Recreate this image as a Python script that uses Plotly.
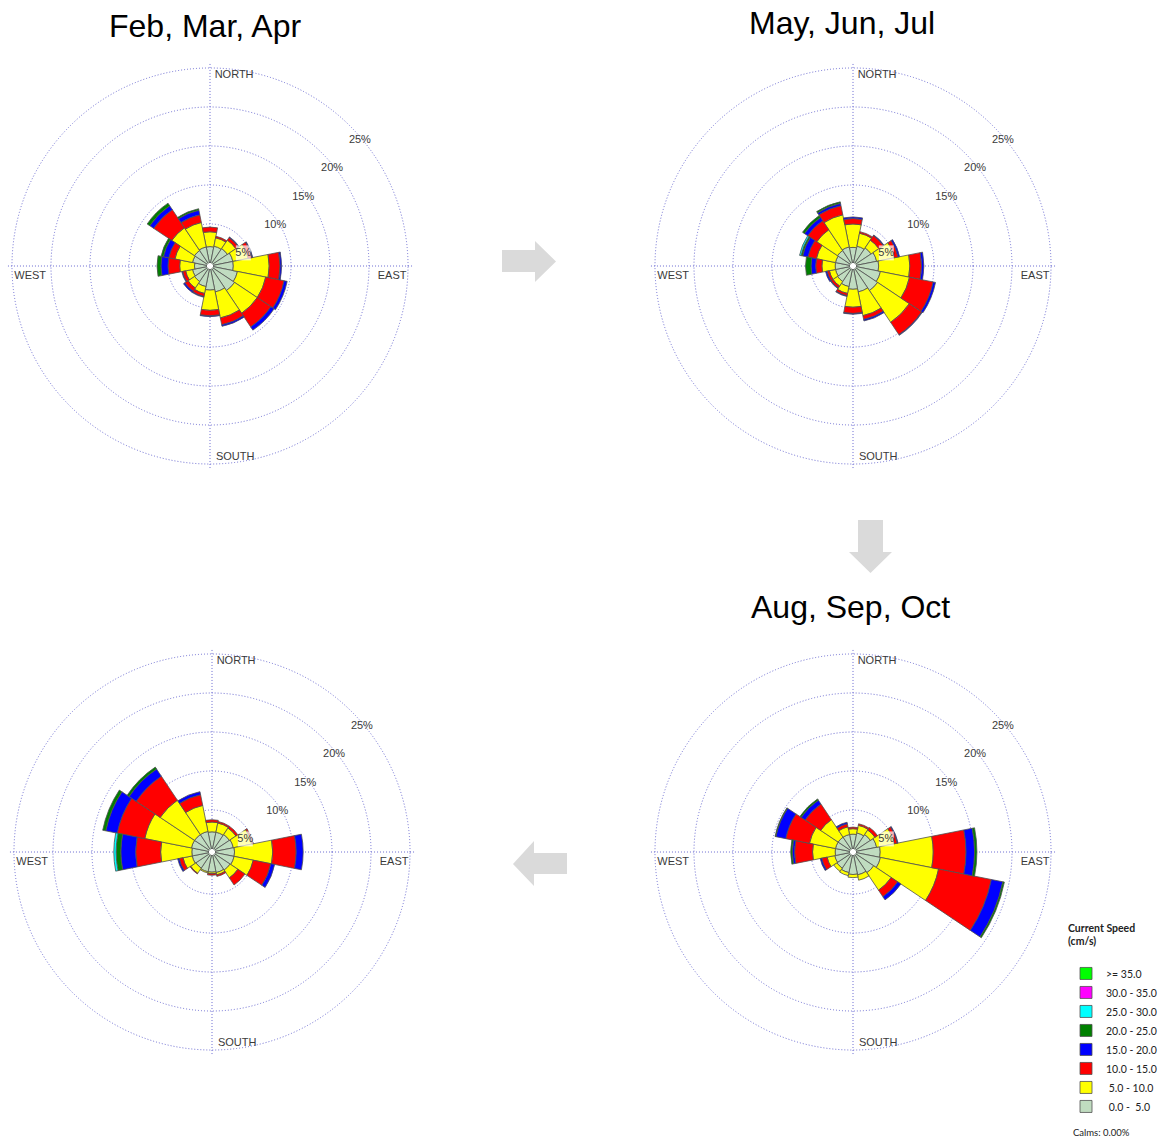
import plotly.graph_objects as go

W, H = 1162, 1140

# ---------------- data ----------------
DIRECTIONS = ["N", "NNE", "NE", "ENE", "E", "ESE", "SE", "SSE",
              "S", "SSW", "SW", "WSW", "W", "WNW", "NW", "NNW"]
THETA_DEG = [0, 22.5, 45, 67.5, 90, 112.5, 135, 157.5,
             180, 202.5, 225, 247.5, 270, 292.5, 315, 337.5]

SPEED_LABELS = ["\u00a00.0 - \u00a05.0", "\u00a05.0 - 10.0", "10.0 - 15.0", "15.0 - 20.0",
                "20.0 - 25.0", "25.0 - 30.0", "30.0 - 35.0", ">= 35.0"]
SPEED_COLORS = ["#c0dcc0", "#ffff00", "#ff0000", "#0000ff",
                "#008000", "#00ffff", "#ff00ff", "#00ff00"]

SEASON_TITLES = ["Feb, Mar, Apr", "May, Jun, Jul", "Aug, Sep, Oct", ""]

# Feb, Mar, Apr  (percent of time per direction and speed class)
FMA_0_5   = [2.1, 2.2, 2.3, 2.6, 2.6, 3.2, 3.4, 3.0, 2.7, 2.3, 2.0, 1.9, 1.6, 1.9, 2.0, 2.1]
FMA_5_10  = [1.9, 1.1, 1.3, 2.0, 4.6, 3.7, 3.5, 3.4, 2.6, 0.9, 1.0, 0.9, 1.9, 2.3, 3.5, 3.2]
FMA_10_15 = [0.6, 0.2, 0.4, 0.5, 1.4, 2.4, 2.1, 0.9, 0.7, 0.4, 0.5, 0.4, 1.5, 0.8, 2.8, 1.0]
FMA_15_20 = [0.0, 0.0, 0.1, 0.1, 0.2, 0.4, 0.5, 0.2, 0.1, 0.1, 0.2, 0.1, 0.9, 0.7, 0.6, 0.6]
FMA_20_25 = [0.0, 0.0, 0.0, 0.0, 0.0, 0.0, 0.0, 0.0, 0.0, 0.0, 0.0, 0.0, 0.5, 0.3, 0.4, 0.2]
FMA_25_30 = [0.0, 0.0, 0.0, 0.0, 0.0, 0.0, 0.0, 0.0, 0.0, 0.0, 0.0, 0.0, 0.0, 0.0, 0.0, 0.0]
FMA_30_35 = [0.0, 0.0, 0.0, 0.0, 0.0, 0.0, 0.0, 0.0, 0.0, 0.0, 0.0, 0.0, 0.0, 0.0, 0.0, 0.0]
FMA_35UP  = [0.0, 0.0, 0.0, 0.0, 0.0, 0.0, 0.0, 0.0, 0.0, 0.0, 0.0, 0.0, 0.0, 0.0, 0.0, 0.0]

# May, Jun, Jul
MJJ_0_5   = [2.0, 2.2, 2.4, 2.7, 2.9, 3.2, 3.4, 3.0, 2.6, 2.3, 2.0, 1.9, 1.9, 1.9, 2.0, 2.1]
MJJ_5_10  = [3.0, 1.7, 1.2, 2.3, 4.0, 3.8, 4.9, 3.1, 2.3, 0.9, 0.7, 0.8, 1.7, 2.5, 3.2, 4.2]
MJJ_10_15 = [0.7, 0.2, 0.7, 0.5, 1.5, 3.1, 1.9, 0.5, 0.8, 0.3, 0.3, 0.3, 0.8, 1.1, 1.4, 1.2]
MJJ_15_20 = [0.2, 0.0, 0.1, 0.2, 0.3, 0.3, 0.1, 0.2, 0.1, 0.1, 0.1, 0.2, 0.6, 0.7, 0.5, 0.3]
MJJ_20_25 = [0.0, 0.0, 0.0, 0.0, 0.0, 0.0, 0.0, 0.0, 0.0, 0.0, 0.0, 0.0, 0.7, 0.2, 0.3, 0.2]
MJJ_25_30 = [0.0, 0.0, 0.0, 0.0, 0.0, 0.0, 0.0, 0.0, 0.0, 0.0, 0.0, 0.0, 0.0, 0.2, 0.0, 0.0]
MJJ_30_35 = [0.0, 0.0, 0.0, 0.0, 0.0, 0.0, 0.0, 0.0, 0.0, 0.0, 0.0, 0.0, 0.0, 0.0, 0.0, 0.0]
MJJ_35UP  = [0.0, 0.0, 0.0, 0.0, 0.0, 0.0, 0.0, 0.0, 0.0, 0.0, 0.0, 0.0, 0.0, 0.0, 0.0, 0.0]

# Aug, Sep, Oct
ASO_0_5   = [1.9, 2.1, 2.3, 2.7, 3.1, 3.2, 2.8, 2.6, 2.5, 2.3, 2.1, 2.0, 1.9, 1.9, 1.9, 1.9]
ASO_5_10  = [0.7, 1.0, 0.7, 2.3, 6.8, 7.6, 2.7, 0.7, 0.4, 0.4, 0.5, 1.0, 2.9, 3.4, 2.7, 1.0]
ASO_10_15 = [0.2, 0.2, 0.4, 0.4, 4.2, 6.9, 1.0, 0.0, 0.0, 0.0, 0.0, 0.7, 2.3, 3.1, 2.4, 0.4]
ASO_15_20 = [0.0, 0.0, 0.0, 0.1, 1.1, 1.5, 0.5, 0.0, 0.0, 0.0, 0.0, 0.2, 0.3, 1.3, 0.6, 0.2]
ASO_20_25 = [0.0, 0.0, 0.0, 0.0, 0.3, 0.2, 0.0, 0.0, 0.0, 0.0, 0.0, 0.0, 0.2, 0.1, 0.2, 0.0]
ASO_25_30 = [0.0, 0.0, 0.0, 0.0, 0.0, 0.0, 0.0, 0.0, 0.0, 0.0, 0.0, 0.0, 0.0, 0.0, 0.0, 0.0]
ASO_30_35 = [0.0, 0.0, 0.0, 0.0, 0.0, 0.0, 0.0, 0.0, 0.0, 0.0, 0.0, 0.0, 0.0, 0.0, 0.0, 0.0]
ASO_35UP  = [0.0, 0.0, 0.0, 0.0, 0.0, 0.0, 0.0, 0.0, 0.0, 0.0, 0.0, 0.0, 0.0, 0.0, 0.0, 0.0]

# Nov, Dec, Jan (untitled panel, bottom left)
NDJ_0_5   = [2.2, 2.2, 2.3, 2.4, 2.5, 2.5, 2.4, 2.3, 2.2, 2.2, 2.1, 2.2, 2.2, 2.3, 2.3, 2.3]
NDJ_5_10  = [1.25, 1.2, 1.0, 2.4, 4.9, 2.5, 1.2, 0.3, 0.2, 0.15, 0.8, 1.2, 4.0, 6.1, 5.3, 3.4]
NDJ_10_15 = [0.3, 0.2, 0.3, 0.2, 3.0, 2.3, 1.1, 0.2, 0.2, 0.0, 0.1, 0.5, 3.2, 3.6, 3.7, 1.4]
NDJ_15_20 = [0.0, 0.0, 0.0, 0.0, 0.9, 0.5, 0.0, 0.0, 0.0, 0.0, 0.0, 0.2, 1.9, 1.5, 1.1, 0.4]
NDJ_20_25 = [0.0, 0.0, 0.0, 0.0, 0.0, 0.0, 0.0, 0.0, 0.0, 0.0, 0.0, 0.0, 0.6, 0.4, 0.3, 0.0]
NDJ_25_30 = [0.0, 0.0, 0.0, 0.0, 0.0, 0.0, 0.0, 0.0, 0.0, 0.0, 0.0, 0.0, 0.3, 0.0, 0.0, 0.0]
NDJ_30_35 = [0.0, 0.0, 0.0, 0.0, 0.0, 0.0, 0.0, 0.0, 0.0, 0.0, 0.0, 0.0, 0.0, 0.0, 0.0, 0.0]
NDJ_35UP  = [0.0, 0.0, 0.0, 0.0, 0.0, 0.0, 0.0, 0.0, 0.0, 0.0, 0.0, 0.0, 0.0, 0.0, 0.0, 0.0]

SEASONS = [
    [FMA_0_5, FMA_5_10, FMA_10_15, FMA_15_20, FMA_20_25, FMA_25_30, FMA_30_35, FMA_35UP],
    [MJJ_0_5, MJJ_5_10, MJJ_10_15, MJJ_15_20, MJJ_20_25, MJJ_25_30, MJJ_30_35, MJJ_35UP],
    [ASO_0_5, ASO_5_10, ASO_10_15, ASO_15_20, ASO_20_25, ASO_25_30, ASO_30_35, ASO_35UP],
    [NDJ_0_5, NDJ_5_10, NDJ_10_15, NDJ_15_20, NDJ_20_25, NDJ_25_30, NDJ_30_35, NDJ_35UP],
]

RING_VALUES = [5, 10, 15, 20, 25]
RING_LABELS = ["5%", "10%", "15%", "20%", "25%"]
# where the ring labels sit (radius in %, bearing in degrees)
RING_LABEL_R = [4.2, 9.5, 14.5, 19.7, 24.7]
RING_LABEL_THETA = [68.5, 57.8, 53.4, 51.2, 50.0]

COMPASS_TEXT = ["NORTH", "EAST", "SOUTH", "WEST"]
COMPASS_THETA = [0, 90, 180, 270]
COMPASS_LABEL_R = [24.3, 23.0, 24.3, 22.7]
COMPASS_LABEL_THETA = [7.2, 93.1, 172.5, 266.8]
CALMS_TEXT = "Calms: 0.00%"

# ---------------- layout helpers ----------------
CENTERS = [(210, 266), (853, 266), (853, 852), (212, 852)]
RADIUS = 202.7
RMAX = 25.6
GRID = "#6c6cd2"
TXT = "#3a3a3a"
FONT = "Liberation Sans, Arial, sans-serif"

fig = go.Figure()

for k, season in enumerate(SEASONS):
    pid = "polar" if k == 0 else f"polar{k+1}"
    for b, vals in enumerate(season):
        fig.add_trace(go.Barpolar(
            r=[v if v > 0 else None for v in vals],
            theta=THETA_DEG,
            width=[22.5] * len(THETA_DEG),
            name=SPEED_LABELS[b],
            legendgroup=SPEED_LABELS[b],
            showlegend=(k == 0),
            marker=dict(color=SPEED_COLORS[b], line=dict(color="#505050", width=0.8)),
            subplot=pid,
            hoverinfo="skip",
        ))
    # white boxes behind ring labels
    fig.add_trace(go.Scatterpolar(
        r=RING_LABEL_R, theta=RING_LABEL_THETA, mode="markers",
        marker=dict(symbol="square", size=[15, 0, 0, 0, 0], color="white",
                    line=dict(width=0)),
        showlegend=False, hoverinfo="skip", subplot=pid,
    ))
    # ring percentage labels
    fig.add_trace(go.Scatterpolar(
        r=RING_LABEL_R, theta=RING_LABEL_THETA, mode="text",
        text=RING_LABELS, textposition="middle center",
        textfont=dict(size=11, color=TXT, family=FONT),
        showlegend=False, hoverinfo="skip", subplot=pid,
    ))
    # compass labels
    fig.add_trace(go.Scatterpolar(
        r=COMPASS_LABEL_R, theta=COMPASS_LABEL_THETA, mode="text",
        text=COMPASS_TEXT, textposition="middle center",
        textfont=dict(size=11, color=TXT, family=FONT),
        showlegend=False, hoverinfo="skip", subplot=pid,
    ))

layout = dict(
    width=W, height=H,
    margin=dict(l=0, r=0, t=0, b=0),
    paper_bgcolor="white",
    plot_bgcolor="white",
    showlegend=True,
    legend=dict(
        x=1066 / W, y=1 - 918 / H, xanchor="left", yanchor="top",
        traceorder="reversed",
        title=dict(text="<b>Current Speed<br>(cm/s)</b><br>\u00a0",
                   font=dict(size=10.5, family="Lato, sans-serif", color="#222")),
        font=dict(size=10.5, family="Lato, sans-serif", color="#222"),
        tracegroupgap=0,
        itemclick=False, itemdoubleclick=False,
    ),
)

for k, (cx, cy) in enumerate(CENTERS):
    key = "polar" if k == 0 else f"polar{k+1}"
    layout[key] = dict(
        domain=dict(x=[(cx - RADIUS) / W, (cx + RADIUS) / W],
                    y=[1 - (cy + RADIUS) / H, 1 - (cy - RADIUS) / H]),
        bgcolor="white",
        hole=0.015,
        barmode="stack",
        radialaxis=dict(range=[0, RMAX], tickvals=RING_VALUES, showticklabels=False,
                        ticks="", showline=False, gridcolor=GRID, griddash="1px,2px",
                        gridwidth=1, layer="below traces"),
        angularaxis=dict(direction="clockwise", rotation=90, tickvals=COMPASS_THETA,
                         showticklabels=False, ticks="", showline=False,
                         gridcolor=GRID, griddash="1px,2px", gridwidth=1, layer="below traces"),
    )

fig.update_layout(**layout)

# titles
TITLE_POS = [(205, 26), (842, 23), (850, 607), None]
for t, pos in zip(SEASON_TITLES, TITLE_POS):
    if pos is None or not t:
        continue
    fig.add_annotation(x=pos[0] / W, y=1 - pos[1] / H, xref="paper", yref="paper",
                       text=t, showarrow=False, xanchor="center", yanchor="middle",
                       font=dict(size=32, color="black", family=FONT))

fig.add_annotation(x=1071 / W, y=1 - 1132 / H, xref="paper", yref="paper",
                   text=CALMS_TEXT, showarrow=False, xanchor="left", yanchor="middle",
                   font=dict(size=9.5, color="#222", family="Lato, sans-serif"))

# grey block arrows between panels
def path(points):
    return "M " + " L ".join(f"{x / W:.5f},{1 - y / H:.5f}" for x, y in points) + " Z"

ARROWS = [
    [(502, 250), (535, 250), (535, 241), (556, 261.5), (535, 282), (535, 272), (502, 272)],
    [(858, 520), (883, 520), (883, 552), (892, 552), (870.5, 573), (849, 552), (858, 552)],
    [(567, 853), (534, 853), (534, 841), (513, 864), (534, 886), (534, 874), (567, 874)],
]
for pts in ARROWS:
    fig.add_shape(type="path", path=path(pts), xref="paper", yref="paper",
                  fillcolor="#dadada", line=dict(width=0), layer="below")

fig.write_html("out.html")
